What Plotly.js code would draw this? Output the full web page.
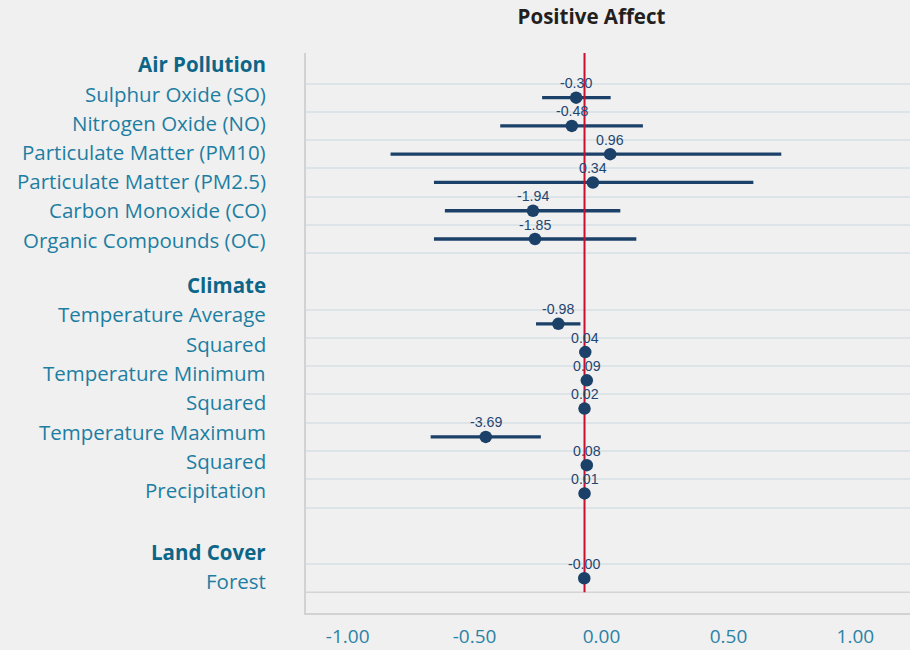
<!DOCTYPE html>
<html><head><meta charset="utf-8">
<script src="https://cdn.plot.ly/plotly-3.0.1.min.js"></script>
<style>html,body{margin:0;padding:0;background:#f0f0f0}</style>
</head><body><div id="chart" style="width:910px;height:650px"></div>
<script>
// ---- data ----
const variables = ['Sulphur Oxide (SO)','Nitrogen Oxide (NO)','Particulate Matter (PM10)','Particulate Matter (PM2.5)','Carbon Monoxide (CO)','Organic Compounds (OC)','Temperature Average','Temperature Average Squared','Temperature Minimum','Temperature Minimum Squared','Temperature Maximum','Temperature Maximum Squared','Precipitation','Forest'];
const rows = [1,2,3,4,5,6,9,10,11,12,13,14,15,18];
const estimates = [-0.100,-0.117,0.034,-0.034,-0.270,-0.262,-0.170,-0.064,-0.058,-0.067,-0.456,-0.058,-0.067,-0.068];
const ciLow  = [-0.234,-0.399,-0.831,-0.660,-0.617,-0.660,-0.258,-0.064,-0.058,-0.067,-0.673,-0.058,-0.067,-0.068];
const ciHigh = [0.036,0.163,0.708,0.598,0.074,0.137,-0.083,-0.064,-0.058,-0.067,-0.239,-0.058,-0.067,-0.068];
const valueLabels = ['-0.30','-0.48','0.96','0.34','-1.94','-1.85','-0.98','0.04','0.09','0.02','-3.69','0.08','0.01','-0.00'];
const referenceValue = -0.067;

const sideLabels = ['Air Pollution','Sulphur Oxide (SO)','Nitrogen Oxide (NO)','Particulate Matter (PM10)','Particulate Matter (PM2.5)','Carbon Monoxide (CO)','Organic Compounds (OC)','Climate','Temperature Average','Squared','Temperature Minimum','Squared','Temperature Maximum','Squared','Precipitation','Land Cover','Forest'];
const sideLabelRows = [-0.13,0.93,1.96,2.99,4.01,5.04,6.10,7.70,8.72,9.78,10.81,11.84,12.90,13.93,14.95,17.15,18.17];
const headerLabels = ['Air Pollution','Climate','Land Cover'];

const gridRows = [0.5,1.5,2.5,3.5,4.5,5.5,6.5,8.5,9.5,10.5,11.5,12.5,13.5,14.5,15.5,17.5];
const endRow = 18.5;
const xTickVals = [-1,-0.5,0,0.5,1];
const xTickText = ['-1.00','-0.50','0.00','0.50','1.00'];

// ---- build ----
const yRange = [19.23, -0.58];
const navy = '#1b4169';
const errPlus = estimates.map((v,i)=>ciHigh[i]-v);
const errMinus = estimates.map((v,i)=>v-ciLow[i]);

const traces = [
  {type:'scatter', mode:'markers', x:estimates, y:rows, marker:{size:1,opacity:0},
   error_x:{type:'data', array:errPlus, arrayminus:errMinus, symmetric:false, width:0, thickness:3.3, color:navy},
   hoverinfo:'skip', showlegend:false},
  {type:'scatter', mode:'lines', x:[referenceValue,referenceValue], y:[yRange[1], endRow],
   line:{color:'#c8102e', width:2}, hoverinfo:'skip', showlegend:false},
  {type:'scatter', mode:'markers', x:estimates, y:rows,
   marker:{size:12.5, color:navy}, cliponaxis:false, showlegend:false}
];

const annotations = sideLabels.map((t,i)=>{
  const isHeader = headerLabels.includes(t);
  return {
    text: isHeader ? '<b>'+t+'</b>' : t,
    xref:'paper', yref:'y', x:0, y:sideLabelRows[i], xanchor:'right', yanchor:'middle',
    xshift:-38, yshift:2, showarrow:false,
    font:{family:'Open Sans, sans-serif', size:20.5, color: isHeader ? '#0d6687' : '#1d7ea2'}
  };
});
valueLabels.forEach((t,i)=>{
  annotations.push({
    text:t, xref:'x', yref:'y', x:estimates[i], y:rows[i], xanchor:'center', yanchor:'middle',
    yshift:14.5, showarrow:false,
    font:{family:'Liberation Sans, Arial, sans-serif', size:14.2, color:'#1f4670'}
  });
});

const layout = {
  width:910, height:650,
  paper_bgcolor:'#f0f0f0', plot_bgcolor:'#f0f0f0',
  margin:{l:306, r:0, t:53, b:37},
  title:{text:'<b>Positive Affect</b>', xref:'container', x:0.65, xanchor:'center', yref:'container', y:0.974, yanchor:'middle',
         font:{family:'Open Sans, sans-serif', size:20.5, color:'#231f20'}},
  xaxis:{range:[-1.164,1.215], tickvals:xTickVals, ticktext:xTickText, showgrid:false, zeroline:false,
         showline:true, linecolor:'#d2d2d2', linewidth:2, ticks:'', ticklabelstandoff:5,
         tickfont:{family:'Open Sans, sans-serif', size:19, color:'#2a82a6'}},
  yaxis:{range:yRange, tickvals:gridRows, showticklabels:false, ticks:'', showgrid:true, gridcolor:'#dde4e7', gridwidth:2,
         zeroline:false, showline:true, linecolor:'#d2d2d2', linewidth:2},
  shapes:[{type:'line', xref:'paper', x0:0, x1:1, yref:'y', y0:endRow, y1:endRow, line:{color:'#d4d4d4', width:1.5}, layer:'below'}],
  annotations: annotations,
  showlegend:false
};

Plotly.newPlot('chart', traces, layout, {displayModeBar:false, staticPlot:true});
</script></body></html>
